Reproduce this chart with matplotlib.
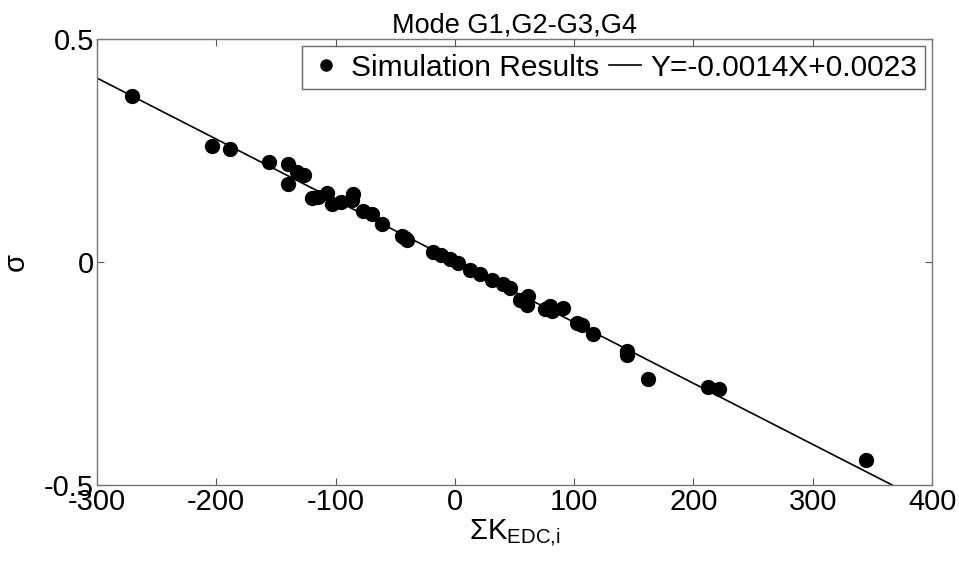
import matplotlib
matplotlib.use('Agg')
import matplotlib.pyplot as plt
import numpy as np

plt.rcParams['font.family'] = ['Liberation Sans', 'DejaVu Sans']
plt.rcParams['mathtext.default'] = 'regular'
plt.rcParams['axes.unicode_minus'] = False

# simulation results
k_sum = [-270.9, -203.9, -188.8, -156.0, -139.6, -139.9, -132.6, -126.5,
         -120.0, -114.8, -107.0, -102.7, -95.0, -85.2, -85.8, -76.8, -69.8,
         -60.9, -44.6, -40.4, -41.8, -18.1, -11.2, -4.2, 2.8, 13.1, 21.0,
         30.8, 40.5, 46.2, 54.6, 61.5, 60.1, 75.5, 81.1, 79.7, 90.3, 102.0,
         106.2, 115.4, 144.5, 144.5, 162.1, 212.4, 221.6, 344.6]
sigma = [0.373, 0.261, 0.253, 0.224, 0.220, 0.175, 0.2025, 0.194,
         0.143, 0.146, 0.155, 0.130, 0.135, 0.152, 0.139, 0.114, 0.107,
         0.086, 0.058, 0.049, 0.053, 0.023, 0.016, 0.006, -0.003, -0.018, -0.028,
         -0.040, -0.050, -0.058, -0.085, -0.076, -0.096, -0.106, -0.111, -0.099, -0.104, -0.136,
         -0.141, -0.161, -0.199, -0.209, -0.263, -0.280, -0.286, -0.444]

fit_slope = -0.00137
fit_intercept = 0.0015
fit_label = 'Y=-0.0014X+0.0023'

fig = plt.figure(figsize=(9.59, 5.65), dpi=100)
ax = fig.add_axes([0.101, 0.142, 0.871, 0.789])

ax.plot(k_sum, sigma, 'o', color='black', markersize=10, label='Simulation Results')
xf = np.array([-300, 400])
ax.plot(xf, fit_slope * xf + fit_intercept, '-', color='black', lw=1.2, label=fit_label)

ax.set_xlim(-300, 400)
ax.set_ylim(-0.5, 0.5)
ax.set_xticks([-300, -200, -100, 0, 100, 200, 300, 400])
ax.set_yticks([-0.5, 0, 0.5])
ax.set_yticklabels(['-0.5', '0', '0.5'])
ax.tick_params(direction='in', length=5, width=0.8, color='#555555',
               top=True, right=True, labelsize=21, pad=2)
for s in ax.spines.values():
    s.set_color('#777777')
    s.set_linewidth(1.0)

ax.set_title('Mode G1,G2-G3,G4', fontsize=19.5, pad=5)
ax.set_xlabel(r'$\Sigma K_{EDC{,}i}$', fontsize=21, labelpad=2)
ax.set_ylabel('σ', fontsize=21)
ax.yaxis.set_label_coords(-0.08, 0.5)

leg = ax.legend(loc='upper right', ncol=2, fontsize=21.5, frameon=True, fancybox=False,
                borderaxespad=0.25, handlelength=1.1, handletextpad=0.3,
                columnspacing=0.3, borderpad=0.25, markerscale=0.8)
leg.get_frame().set_edgecolor('#444444')
leg.get_frame().set_linewidth(1.0)

fig.savefig('out.png', dpi=100)
